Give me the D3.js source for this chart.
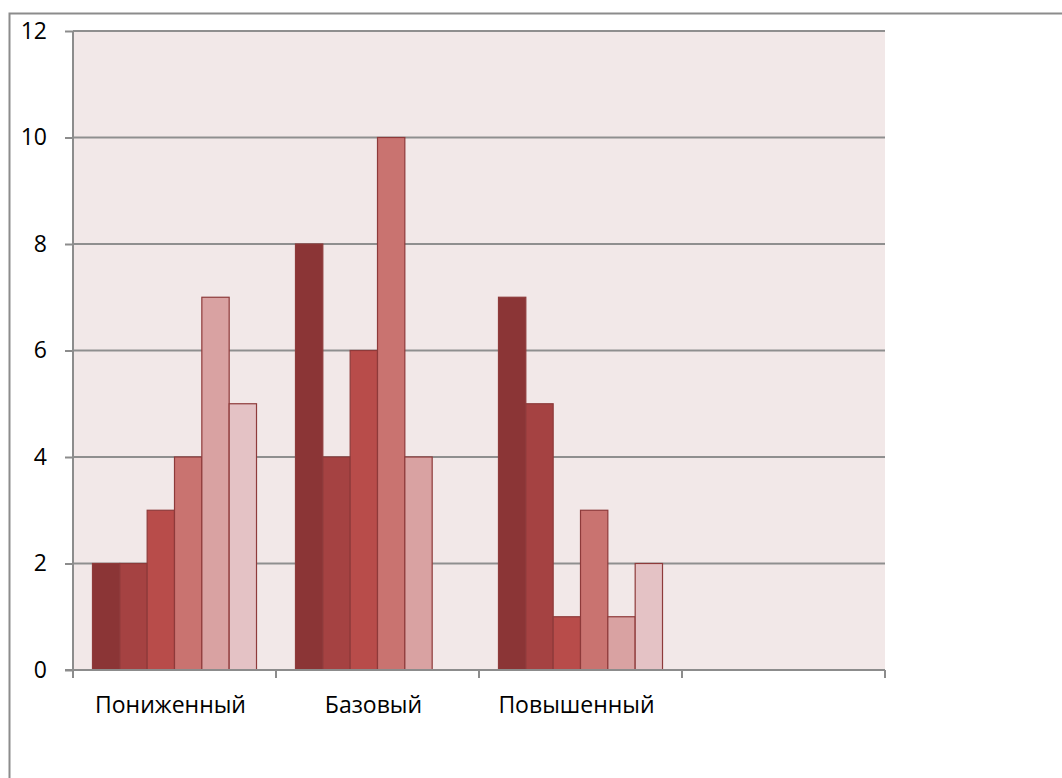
<!DOCTYPE html>
<html>
<head>
  <meta charset="utf-8">
  <script src="https://cdn.jsdelivr.net/npm/d3@7"></script>
  <style>
    body { margin: 0; background: #fff; }
    svg text { font-family: "Open Sans", "Noto Sans", sans-serif; fill: #000; }
  </style>
</head>
<body>
  <svg id="chart" width="1062" height="778"></svg>
  <script>
  // categories and series values
  const categories = ['Пониженный', 'Базовый', 'Повышенный', ''];
  const seriesNames = ['s1', 's2', 's3', 's4', 's5', 's6'];
  const values = [
    [2, 2, 3, 4, 7, 5],
    [8, 4, 6, 10, 4, null],
    [7, 5, 1, 3, 1, 2],
    [null, null, null, null, null, null]
  ];
  const yTicks = [0, 2, 4, 6, 8, 10, 12];
  const colors = ['#8b3536', '#a54242', '#b84c4a', '#c97370', '#d9a2a2', '#e4c2c5'];

  const svg = d3.select('#chart');
  const plotLeft = 73, plotRight = 885, plotTop = 31, plotBottom = 670;

  // outer chart frame
  svg.append('rect')
    .attr('x', 9.5).attr('y', 13.5)
    .attr('width', 1100).attr('height', 800)
    .attr('fill', 'none').attr('stroke', '#8c8c8c').attr('stroke-width', 2);

  const pad = 0.192;
  const x0 = d3.scaleBand().domain(categories).range([plotLeft, plotRight])
    .paddingInner(pad).paddingOuter(pad / 2);
  const x1 = d3.scaleBand().domain(seriesNames).range([0, x0.bandwidth()]);
  const y = d3.scaleLinear().domain([0, 12]).range([plotBottom, plotTop]);

  // plot background
  svg.append('rect')
    .attr('x', plotLeft).attr('y', plotTop)
    .attr('width', plotRight - plotLeft).attr('height', plotBottom - plotTop)
    .attr('fill', '#f2e8e8');

  // gridlines
  svg.append('g')
    .selectAll('line')
    .data(yTicks.filter(d => d > 0))
    .enter().append('line')
    .attr('x1', plotLeft).attr('x2', plotRight)
    .attr('y1', d => y(d)).attr('y2', d => y(d))
    .attr('stroke', '#8f8f8f').attr('stroke-width', 2);

  // bars
  const groups = svg.append('g')
    .selectAll('g')
    .data(categories)
    .enter().append('g')
    .attr('transform', d => `translate(${x0(d)},0)`);

  groups.selectAll('rect')
    .data((c, i) => values[i].map((v, j) => ({ v, j })).filter(d => d.v !== null))
    .enter().append('rect')
    .attr('x', d => x1(seriesNames[d.j]))
    .attr('width', x1.bandwidth())
    .attr('y', d => y(d.v))
    .attr('height', d => y(0) - y(d.v))
    .attr('fill', d => colors[d.j])
    .attr('stroke', '#8e3a3a')
    .attr('stroke-width', 1.2);

  // y axis
  const yAxis = svg.append('g')
    .attr('transform', `translate(${plotLeft},0)`)
    .call(d3.axisLeft(y).tickValues(yTicks).tickSize(8).tickPadding(18));
  yAxis.attr('font-size', null).attr('font-family', null);
  yAxis.selectAll('text').style('font-size', '23px');
  yAxis.selectAll('line, path').attr('stroke', '#8c8c8c').attr('stroke-width', 2);
  yAxis.select('.domain').attr('d', `M0,${plotTop}V${plotBottom}`);

  // x axis line with ticks at category boundaries
  const xAxis = svg.append('g');
  xAxis.append('line')
    .attr('x1', plotLeft - 8).attr('x2', plotRight)
    .attr('y1', plotBottom).attr('y2', plotBottom)
    .attr('stroke', '#8c8c8c').attr('stroke-width', 2);
  const bounds = categories.map(c => x0(c) - x0.step() * pad / 2)
    .concat([plotRight]);
  xAxis.selectAll('.tick')
    .data(bounds)
    .enter().append('line')
    .attr('x1', d => d).attr('x2', d => d)
    .attr('y1', plotBottom).attr('y2', plotBottom + 8)
    .attr('stroke', '#8c8c8c').attr('stroke-width', 2);
  xAxis.selectAll('text')
    .data(categories)
    .enter().append('text')
    .attr('x', d => x0(d) + x0.bandwidth() / 2 - 4)
    .attr('y', 713)
    .attr('text-anchor', 'middle')
    .style('font-size', '23px')
    .text(d => d);
  </script>
</body>
</html>
